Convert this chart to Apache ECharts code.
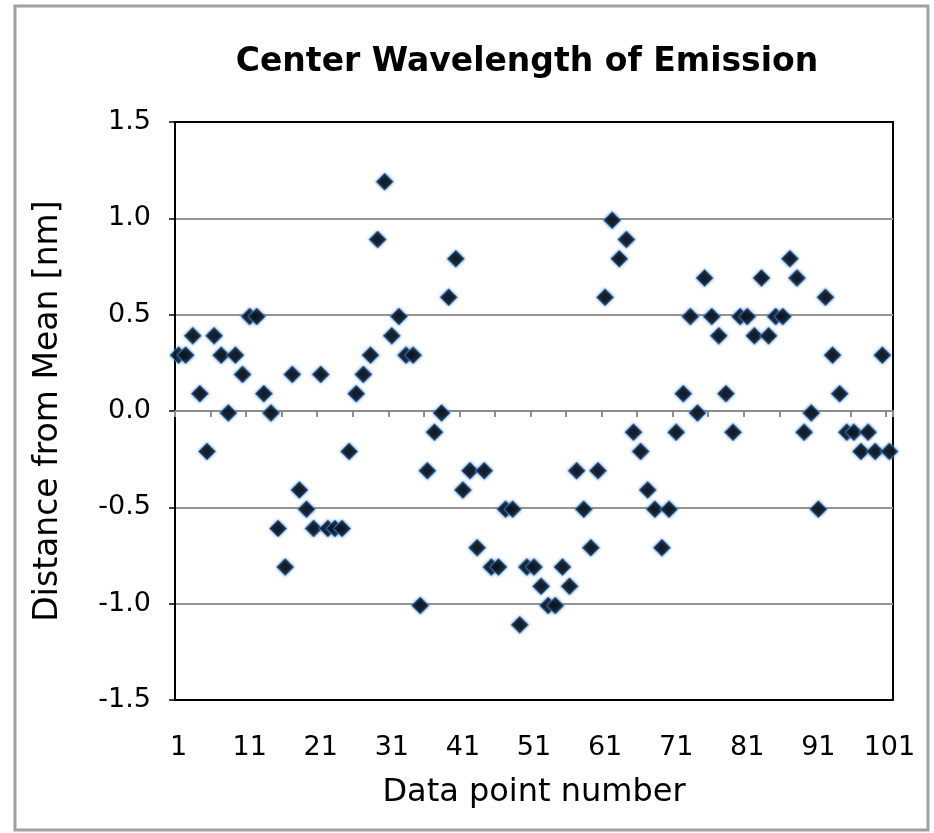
<!DOCTYPE html>
<html>
<head>
<meta charset="utf-8">
<script src="https://cdn.jsdelivr.net/npm/echarts@6/dist/echarts.min.js"></script>
<style>
  html, body { margin: 0; padding: 0; background: #fff; }
  #chart { width: 934px; height: 833px; }
</style>
</head>
<body>
<div id="chart"></div>
<script>
// data point numbers (x categories)
const pointNumbers = [
  '1', '2', '3', '4', '5', '6', '7', '8', '9', '10',
  '11', '12', '13', '14', '15', '16', '17', '18', '19', '20',
  '21', '22', '23', '24', '25', '26', '27', '28', '29', '30',
  '31', '32', '33', '34', '35', '36', '37', '38', '39', '40',
  '41', '42', '43', '44', '45', '46', '47', '48', '49', '50',
  '51', '52', '53', '54', '55', '56', '57', '58', '59', '60',
  '61', '62', '63', '64', '65', '66', '67', '68', '69', '70',
  '71', '72', '73', '74', '75', '76', '77', '78', '79', '80',
  '81', '82', '83', '84', '85', '86', '87', '88', '89', '90',
  '91', '92', '93', '94', '95', '96', '97', '98', '99', '100',
  '101'
]

// distance from mean [nm]
const distance = [
  0.29, 0.29, 0.39, 0.09, -0.21, 0.39, 0.29, -0.01, 0.29, 0.19,
  0.49, 0.49, 0.09, -0.01, -0.61, -0.81, 0.19, -0.41, -0.51, -0.61,
  0.19, -0.61, -0.61, -0.61, -0.21, 0.09, 0.19, 0.29, 0.89, 1.19,
  0.39, 0.49, 0.29, 0.29, -1.01, -0.31, -0.11, -0.01, 0.59, 0.79,
  -0.41, -0.31, -0.71, -0.31, -0.81, -0.81, -0.51, -0.51, -1.11, -0.81,
  -0.81, -0.91, -1.01, -1.01, -0.81, -0.91, -0.31, -0.51, -0.71, -0.31,
  0.59, 0.99, 0.79, 0.89, -0.11, -0.21, -0.41, -0.51, -0.71, -0.51,
  -0.11, 0.09, 0.49, -0.01, 0.69, 0.49, 0.39, 0.09, -0.11, 0.49,
  0.49, 0.39, 0.69, 0.39, 0.49, 0.49, 0.79, 0.69, -0.11, -0.01,
  -0.51, 0.59, 0.29, 0.09, -0.11, -0.11, -0.21, -0.11, -0.21, 0.29,
  -0.21
]

const font = 'DejaVu Sans'

const myChart = echarts.init(document.getElementById('chart'))
const option = {
  animation: false,
  textStyle: { fontFamily: font },
  title: {
    text: 'Center Wavelength of Emission',
    left: 522,
    top: 41,
    textAlign: 'center',
    textStyle: { fontFamily: font, fontWeight: 'bold', fontSize: 33, color: '#000' }
  },
  graphic: [
    {
      type: 'rect',
      shape: { x: 15, y: 6, width: 913, height: 824 },
      style: { fill: null, stroke: '#a0a0a0', lineWidth: 3 },
      z: -1
    }
  ],
  grid: {
    left: 175,
    right: 41,
    top: 122,
    bottom: 133,
    show: true,
    borderColor: '#000',
    borderWidth: 2
  },
  xAxis: [
    {
      // labels at the bottom
      type: 'category',
      data: pointNumbers,
      boundaryGap: true,
      axisLine: { show: false, onZero: false },
      axisTick: { show: false },
      axisLabel: { interval: 9, fontSize: 27, margin: 34, color: '#000', fontFamily: font },
      splitLine: { show: false },
      name: 'Data point number',
      nameLocation: 'middle',
      nameGap: 77,
      nameTextStyle: { fontSize: 32, color: '#000', fontFamily: font }
    },
    {
      // gray axis line through zero with tick marks
      type: 'category',
      data: pointNumbers,
      position: 'bottom',
      boundaryGap: true,
      axisLine: { show: true, onZero: true, lineStyle: { color: '#8c8c8c', width: 2 } },
      axisTick: { show: true, interval: 4, length: 6, lineStyle: { color: '#8c8c8c', width: 2 } },
      axisLabel: { show: false },
      splitLine: { show: false }
    }
  ],
  yAxis: {
    type: 'value',
    min: -1.5,
    max: 1.5,
    interval: 0.5,
    axisLine: { show: true, lineStyle: { color: '#000', width: 2 } },
    axisTick: { show: true, length: 6, lineStyle: { color: '#000', width: 1.5 } },
    axisLabel: {
      fontSize: 27,
      margin: 24,
      color: '#000',
      fontFamily: font,
      formatter: v => v.toFixed(1)
    },
    splitLine: {
      show: true,
      showMinLine: false,
      showMaxLine: false,
      lineStyle: { color: '#949494', width: 2 }
    },
    name: 'Distance from Mean [nm]',
    nameLocation: 'middle',
    nameGap: 110,
    nameTextStyle: { fontSize: 33, color: '#000', fontFamily: font }
  },
  series: [
    {
      name: 'Center wavelength',
      type: 'scatter',
      xAxisIndex: 0,
      symbol: 'diamond',
      symbolSize: 17,
      itemStyle: {
        color: '#000',
        borderColor: '#3f7fcc',
        borderWidth: 1,
        shadowBlur: 3,
        shadowColor: '#3f7fcc'
      },
      data: distance
    }
  ]
}
myChart.setOption(option)
</script>
</body>
</html>
